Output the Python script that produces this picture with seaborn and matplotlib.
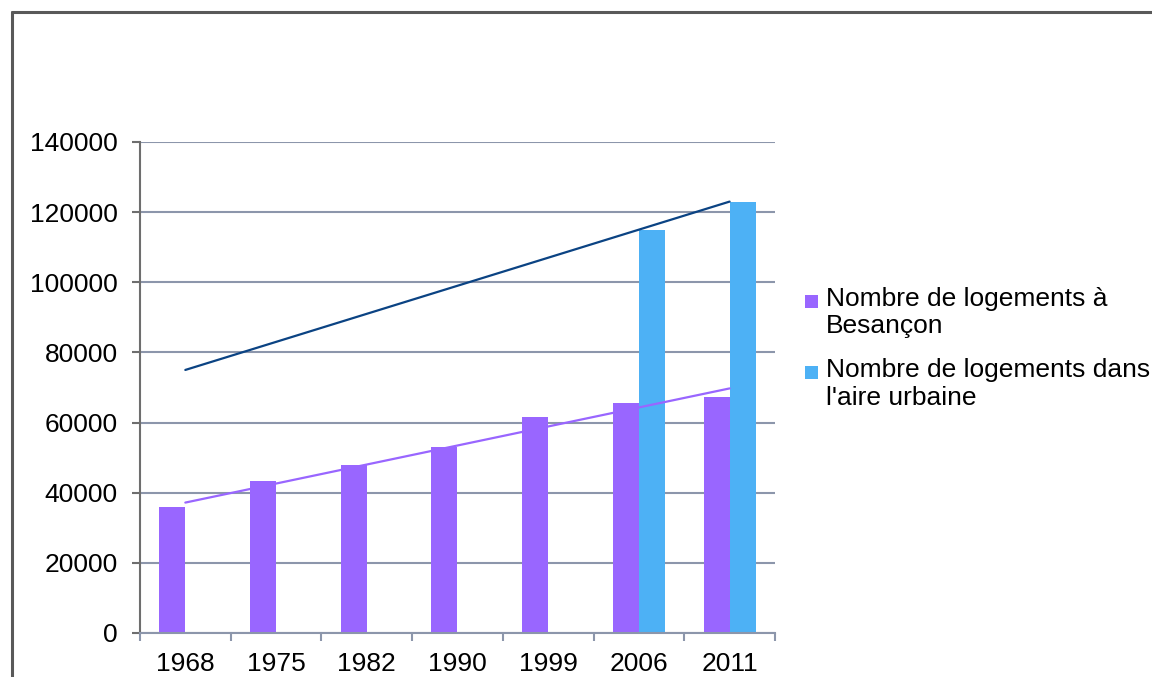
import matplotlib
matplotlib.use("Agg")
import matplotlib.pyplot as plt
from matplotlib.lines import Line2D
from matplotlib.patches import Rectangle
from matplotlib.legend_handler import HandlerPatch
import numpy as np
import pandas as pd
import seaborn as sns

years = ["1968", "1975", "1982", "1990", "1999", "2006", "2011"]
besancon = [36000, 43200, 47800, 53000, 61500, 65500, 67200]
aire_urbaine = [np.nan, np.nan, np.nan, np.nan, np.nan, 115000, 123000]
series_names = ["Nombre de logements à\nBesançon",
                "Nombre de logements dans\nl'aire urbaine"]

purple = "#9966FF"
blue = "#4DB1F5"
navy = "#0B4383"
grid_col = "#8C96AB"

sns.set_style("white")
plt.rcParams["font.family"] = ["Liberation Sans", "DejaVu Sans"]
plt.rcParams["text.color"] = "black"
plt.rcParams["xtick.labelcolor"] = "black"
plt.rcParams["ytick.labelcolor"] = "black"

df = pd.DataFrame({
    "year": years * 2,
    "value": besancon + aire_urbaine,
    "serie": [series_names[0]] * len(years) + [series_names[1]] * len(years),
})

fig = plt.figure(figsize=(11.52, 6.77), dpi=100)
ax = fig.add_axes([0.1215, 0.065, 0.5512, 0.7253])

sns.barplot(data=df, x="year", y="value", hue="serie", order=years,
            hue_order=series_names, palette=[purple, blue], width=0.575,
            saturation=1, errorbar=None, linewidth=0, ax=ax, zorder=2)

# linear trendlines (Excel style) over category positions
pos = np.arange(len(years))
for vals, col in [(besancon, purple), (aire_urbaine, navy)]:
    v = np.array(vals, dtype=float)
    ok = ~np.isnan(v)
    a, b = np.polyfit(pos[ok], v[ok], 1)
    ax.plot([pos[0], pos[-1]], [a * pos[0] + b, a * pos[-1] + b],
            color=col, lw=1.6, zorder=3)

ax.set_ylim(0, 140000)
ax.set_xlim(-0.5, len(years) - 0.5)
ax.set_yticks(np.arange(0, 140001, 20000))
ax.yaxis.grid(True, color=grid_col, lw=1.5, zorder=0)
ax.set_axisbelow(True)
ax.set_xlabel("")
ax.set_ylabel("")

for s in ["top", "right"]:
    ax.spines[s].set_visible(False)
ax.spines["left"].set_color("#6E6E6E")
ax.spines["left"].set_linewidth(1.5)
ax.spines["bottom"].set_color(grid_col)
ax.spines["bottom"].set_linewidth(1.5)

ax.tick_params(axis="y", direction="out", length=6, width=1.5, color="#6E6E6E",
               labelsize=19, pad=10, left=True)
ax.tick_params(axis="x", which="major", length=0, labelsize=19, pad=14)
ax.set_xticks(np.arange(-0.5, len(years)), minor=True)
ax.tick_params(axis="x", which="minor", direction="out", length=6, width=1.5,
               color=grid_col, bottom=True)


# legend square sits next to the first line of the wrapped label
def top_square(legend, orig_handle, xdescent, ydescent, width, height, fontsize):
    s = 0.5 * fontsize
    return Rectangle((-xdescent, -ydescent + height - s * 1.05), s, s)


ax.legend(loc="center left", bbox_to_anchor=(1.03, 0.58), frameon=False,
          fontsize=19, handlelength=0.5, handleheight=1.9, handletextpad=0.3,
          labelspacing=0.75, borderaxespad=0,
          handler_map={Rectangle: HandlerPatch(patch_func=top_square)})

# outer chart frame (cropped at right and bottom)
fx = 11.5 / 1152
fy = 1 - 11.5 / 677
fig.add_artist(Line2D([fx, fx], [-0.05, fy], transform=fig.transFigure,
                      color="#595959", lw=2.2))
fig.add_artist(Line2D([fx, 1.05], [fy, fy], transform=fig.transFigure,
                      color="#595959", lw=2.2))

fig.savefig("out.png", dpi=100)
